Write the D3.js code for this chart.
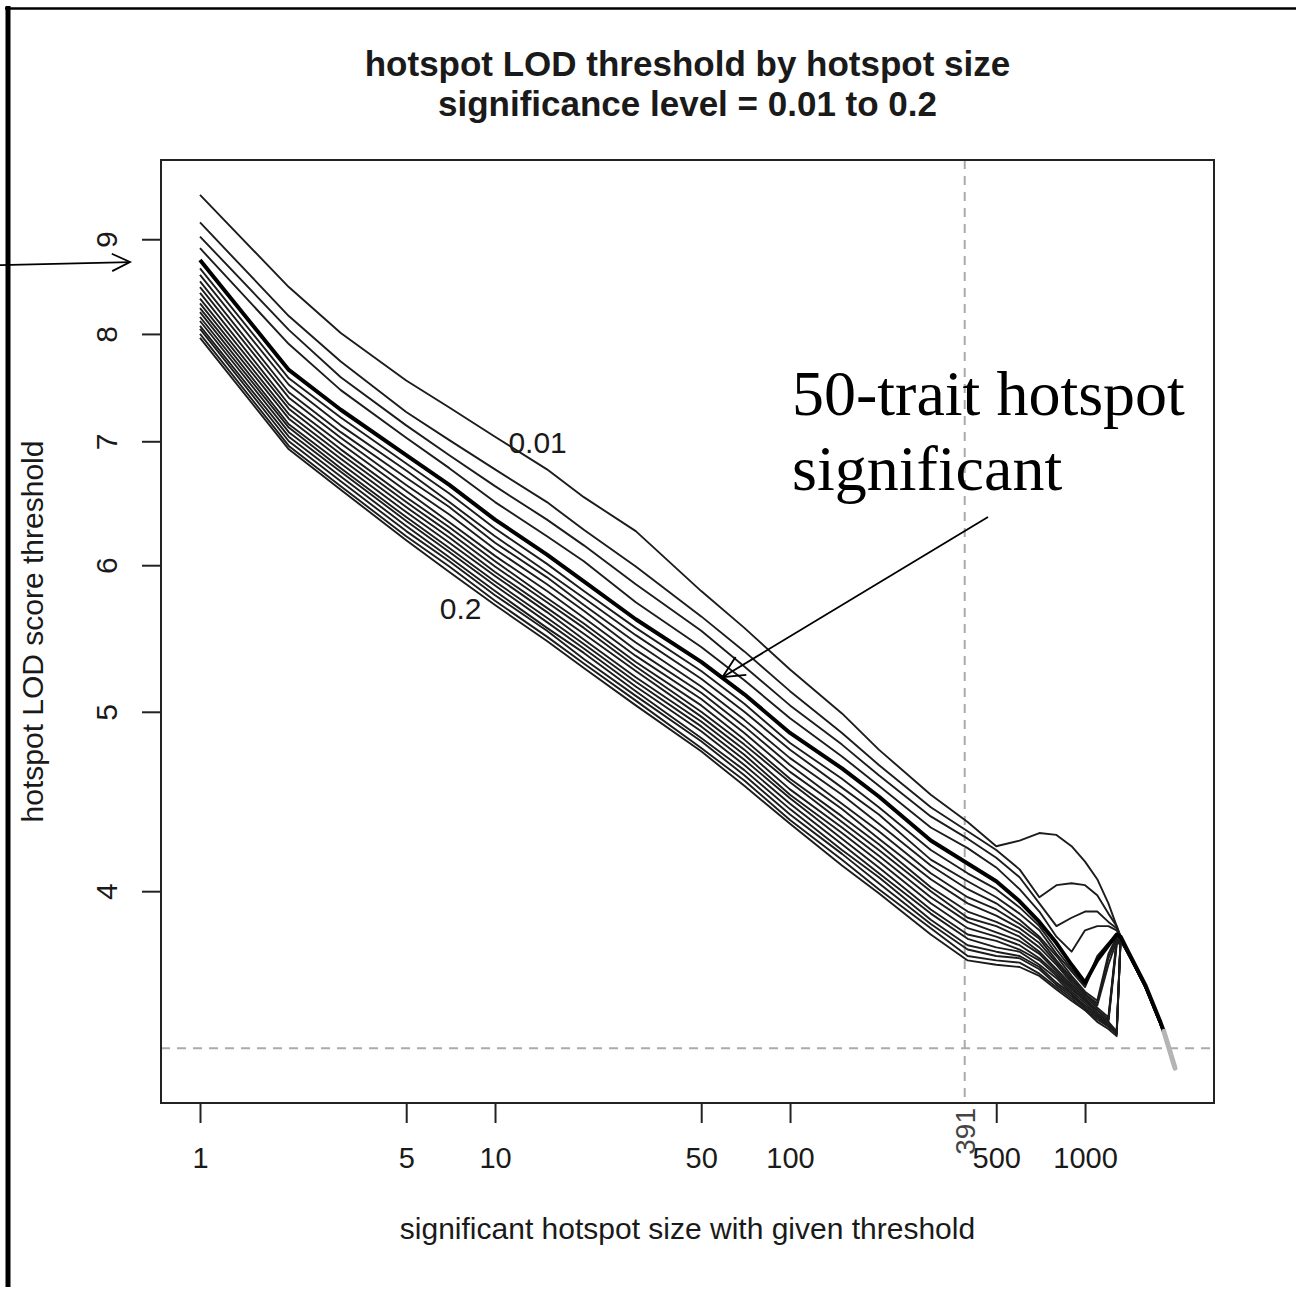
<!DOCTYPE html>
<html>
<head>
<meta charset="utf-8">
<script src="https://cdn.jsdelivr.net/npm/d3@7"></script>
<style>
  html, body { margin: 0; padding: 0; background: #fff; }
  svg { display: block; }
</style>
</head>
<body>
<svg id="chart" width="1296" height="1290"></svg>
<script>
// Hotspot sizes (x) at which every threshold curve is evaluated
const sizes = [1, 2, 3, 5, 7, 10, 15, 20, 30, 50, 70, 100, 150, 200, 300, 400, 500, 600,
               700, 800, 900, 1000, 1100, 1200, 1280, 1320, 1400, 1600, 1800, 1850];

// Significance levels, one curve each
const levels = ["0.01", "0.02", "0.03", "0.04", "0.05", "0.06", "0.07", "0.08", "0.09", "0.1",
                "0.11", "0.12", "0.13", "0.14", "0.15", "0.16", "0.17", "0.18", "0.19", "0.2"];

// Hotspot LOD thresholds per significance level
const sig01 = [9.51, 8.48, 8.01, 7.55, 7.30, 7.04, 6.76, 6.53, 6.26, 5.81, 5.55, 5.27, 4.99, 4.77, 4.51, 4.36, 4.23, 4.26, 4.30, 4.29, 4.23, 4.15, 4.06, 3.94, 3.83, 3.78, 3.71, 3.56, 3.40, 3.36];
const sig02 = [9.19, 8.18, 7.73, 7.26, 7.01, 6.76, 6.49, 6.27, 5.99, 5.63, 5.39, 5.13, 4.87, 4.68, 4.44, 4.31, 4.21, 4.11, 3.97, 4.03, 4.04, 4.03, 3.98, 3.89, 3.83, 3.78, 3.71, 3.56, 3.40, 3.36];
const sig03 = [9.03, 8.04, 7.58, 7.14, 6.88, 6.62, 6.35, 6.15, 5.86, 5.53, 5.29, 5.04, 4.80, 4.62, 4.39, 4.27, 4.17, 4.07, 3.94, 3.83, 3.87, 3.90, 3.90, 3.85, 3.82, 3.78, 3.70, 3.55, 3.40, 3.35];
const sig04 = [8.90, 7.90, 7.46, 7.03, 6.77, 6.49, 6.22, 6.03, 5.73, 5.42, 5.20, 4.96, 4.73, 4.56, 4.33, 4.22, 4.12, 4.01, 3.90, 3.78, 3.71, 3.81, 3.83, 3.83, 3.81, 3.77, 3.70, 3.55, 3.39, 3.35];
const sig05 = [8.77, 7.65, 7.28, 6.88, 6.63, 6.35, 6.08, 5.88, 5.61, 5.32, 5.11, 4.87, 4.66, 4.50, 4.26, 4.14, 4.05, 3.95, 3.85, 3.75, 3.65, 3.57, 3.67, 3.74, 3.79, 3.78, 3.71, 3.56, 3.40, 3.36];
const sig06 = [8.68, 7.57, 7.21, 6.81, 6.56, 6.28, 6.01, 5.81, 5.55, 5.26, 5.05, 4.81, 4.60, 4.44, 4.21, 4.09, 4.01, 3.92, 3.83, 3.72, 3.63, 3.56, 3.69, 3.75, 3.79, 3.78, 3.71, 3.56, 3.40, 3.36];
const sig07 = [8.61, 7.51, 7.14, 6.75, 6.49, 6.22, 5.95, 5.76, 5.50, 5.21, 5.00, 4.77, 4.55, 4.40, 4.16, 4.05, 3.97, 3.89, 3.81, 3.70, 3.62, 3.55, 3.68, 3.74, 3.78, 3.77, 3.70, 3.56, 3.39, 3.35];
const sig08 = [8.54, 7.44, 7.08, 6.69, 6.45, 6.17, 5.91, 5.71, 5.45, 5.16, 4.95, 4.72, 4.51, 4.35, 4.13, 4.01, 3.94, 3.86, 3.78, 3.69, 3.60, 3.53, 3.49, 3.70, 3.78, 3.77, 3.71, 3.55, 3.40, 3.36];
const sig09 = [8.48, 7.39, 7.03, 6.63, 6.39, 6.12, 5.86, 5.67, 5.40, 5.12, 4.91, 4.68, 4.46, 4.31, 4.09, 3.97, 3.91, 3.84, 3.77, 3.67, 3.59, 3.52, 3.48, 3.68, 3.77, 3.77, 3.70, 3.55, 3.39, 3.35];
const sig10 = [8.42, 7.33, 6.98, 6.58, 6.33, 6.07, 5.81, 5.62, 5.36, 5.08, 4.87, 4.64, 4.43, 4.27, 4.06, 3.94, 3.88, 3.82, 3.75, 3.66, 3.58, 3.52, 3.47, 3.65, 3.76, 3.76, 3.70, 3.56, 3.40, 3.36];
const sig11 = [8.36, 7.29, 6.93, 6.53, 6.29, 6.03, 5.76, 5.58, 5.32, 5.04, 4.83, 4.60, 4.39, 4.24, 4.02, 3.90, 3.85, 3.80, 3.73, 3.65, 3.57, 3.51, 3.46, 3.42, 3.77, 3.76, 3.71, 3.56, 3.39, 3.35];
const sig12 = [8.31, 7.24, 6.89, 6.49, 6.25, 5.99, 5.73, 5.55, 5.29, 5.00, 4.80, 4.58, 4.36, 4.21, 4.00, 3.87, 3.83, 3.78, 3.71, 3.63, 3.56, 3.50, 3.45, 3.41, 3.76, 3.77, 3.70, 3.55, 3.40, 3.36];
const sig13 = [8.26, 7.20, 6.85, 6.45, 6.21, 5.95, 5.69, 5.51, 5.26, 4.97, 4.77, 4.54, 4.33, 4.18, 3.97, 3.85, 3.80, 3.76, 3.70, 3.62, 3.55, 3.49, 3.45, 3.41, 3.75, 3.77, 3.71, 3.56, 3.40, 3.35];
const sig14 = [8.22, 7.15, 6.81, 6.41, 6.17, 5.92, 5.66, 5.47, 5.22, 4.94, 4.74, 4.51, 4.30, 4.15, 3.94, 3.82, 3.78, 3.74, 3.68, 3.61, 3.54, 3.49, 3.44, 3.40, 3.74, 3.76, 3.70, 3.55, 3.39, 3.36];
const sig15 = [8.17, 7.12, 6.77, 6.37, 6.13, 5.88, 5.62, 5.44, 5.19, 4.91, 4.71, 4.49, 4.27, 4.12, 3.91, 3.79, 3.76, 3.72, 3.67, 3.60, 3.53, 3.48, 3.43, 3.40, 3.36, 3.78, 3.71, 3.56, 3.40, 3.36];
const sig16 = [8.13, 7.08, 6.74, 6.34, 6.10, 5.85, 5.59, 5.41, 5.16, 4.88, 4.68, 4.46, 4.24, 4.09, 3.89, 3.77, 3.73, 3.71, 3.65, 3.59, 3.52, 3.47, 3.43, 3.39, 3.36, 3.77, 3.70, 3.55, 3.39, 3.35];
const sig17 = [8.08, 7.04, 6.70, 6.30, 6.06, 5.81, 5.55, 5.38, 5.13, 4.84, 4.65, 4.43, 4.21, 4.07, 3.86, 3.74, 3.71, 3.69, 3.64, 3.57, 3.52, 3.46, 3.42, 3.39, 3.35, 3.77, 3.71, 3.56, 3.40, 3.36];
const sig18 = [8.05, 7.00, 6.66, 6.26, 6.03, 5.78, 5.53, 5.34, 5.10, 4.82, 4.62, 4.40, 4.19, 4.04, 3.84, 3.72, 3.69, 3.68, 3.63, 3.56, 3.51, 3.46, 3.42, 3.38, 3.35, 3.77, 3.70, 3.56, 3.40, 3.36];
const sig19 = [8.00, 6.96, 6.62, 6.22, 5.99, 5.74, 5.49, 5.31, 5.07, 4.78, 4.59, 4.37, 4.16, 4.01, 3.82, 3.69, 3.67, 3.66, 3.61, 3.55, 3.50, 3.45, 3.41, 3.38, 3.35, 3.76, 3.71, 3.55, 3.39, 3.35];
const sig20 = [7.96, 6.93, 6.59, 6.19, 5.95, 5.71, 5.46, 5.28, 5.04, 4.76, 4.56, 4.35, 4.13, 3.99, 3.79, 3.67, 3.65, 3.64, 3.60, 3.54, 3.49, 3.45, 3.40, 3.37, 3.34, 3.77, 3.70, 3.56, 3.40, 3.36];

// Common tail shared by all levels at the largest sizes
const tailSizes = [1850, 2018];
const tailLOD = [3.36, 3.21];

// Axis ticks
const xTicks = [1, 5, 10, 50, 100, 500, 1000];
const yTicks = [4, 5, 6, 7, 8, 9];

// Reference lines: hotspot size 391 and single-trait LOD threshold
const refSize = 391;
const refLOD = 3.29;

// Emphasised level (drawn heavy) and in-plot level labels
const boldLevel = "0.05";
const levelLabels = [
  { text: "0.01", size: 11.1, lod: 6.90 },
  { text: "0.2",  size: 6.5,  lod: 5.61 }
];

const series = [sig01, sig02, sig03, sig04, sig05, sig06, sig07, sig08, sig09, sig10,
                sig11, sig12, sig13, sig14, sig15, sig16, sig17, sig18, sig19, sig20];

// ---------------------------------------------------------------------------
const svg = d3.select("#chart");
const sans = "'Liberation Sans', Arial, Helvetica, sans-serif";
const serif = "'Liberation Serif', 'Times New Roman', serif";
const ink = "#1a1a1a";

const box = { left: 161, top: 160, right: 1214, bottom: 1103 };

// log range padded by 4% on each side
function padLog(lo, hi) {
  const a = Math.log10(lo), b = Math.log10(hi), d = (b - a) * 0.04;
  return [Math.pow(10, a - d), Math.pow(10, b + d)];
}
const allLOD = series.flat().concat(tailLOD);
const x = d3.scaleLog()
  .domain(padLog(d3.min(sizes), d3.max(tailSizes)))
  .range([box.left, box.right]);
const y = d3.scaleLog()
  .domain(padLog(d3.min(allLOD), d3.max(allLOD)))
  .range([box.bottom, box.top]);

svg.append("rect").attr("width", 1296).attr("height", 1290).attr("fill", "#fff");

// outer slide frame
svg.append("line").attr("x1", 8).attr("x2", 8).attr("y1", 6).attr("y2", 1287)
  .attr("stroke", "#000").attr("stroke-width", 5);
svg.append("line").attr("x1", 5).attr("x2", 1296).attr("y1", 8.5).attr("y2", 8.5)
  .attr("stroke", "#000").attr("stroke-width", 2.5);

// reference lines
svg.append("line")
  .attr("x1", box.left).attr("x2", box.right)
  .attr("y1", y(refLOD)).attr("y2", y(refLOD))
  .attr("stroke", "#aaa").attr("stroke-width", 2).attr("stroke-dasharray", "9,7");
svg.append("line")
  .attr("x1", x(refSize)).attr("x2", x(refSize))
  .attr("y1", box.top).attr("y2", box.bottom)
  .attr("stroke", "#aaa").attr("stroke-width", 2).attr("stroke-dasharray", "9,7");

// threshold curves
const line = d3.line().x(d => x(d[0])).y(d => y(d[1]));
const curves = svg.append("g").attr("fill", "none").attr("stroke-linejoin", "round");
const order = d3.range(series.length).sort((a, b) =>
  (levels[a] === boldLevel) - (levels[b] === boldLevel));
order.forEach(i => {
  const pts = sizes.map((s, j) => [s, series[i][j]]);
  const bold = levels[i] === boldLevel;
  curves.append("path")
    .attr("d", line(pts))
    .attr("stroke", bold ? "#000" : "#1c1c1c")
    .attr("stroke-width", bold ? 4 : 1.9);
});
curves.append("path")
  .attr("d", line(tailSizes.map((s, j) => [s, tailLOD[j]])))
  .attr("stroke", "#b4b4b4").attr("stroke-width", 5).attr("stroke-linecap", "round");

// level labels
levelLabels.forEach(l => {
  svg.append("text")
    .attr("x", x(l.size)).attr("y", y(l.lod))
    .attr("font-family", sans).attr("font-size", 30).attr("fill", ink)
    .text(l.text);
});

// plot frame
svg.append("rect")
  .attr("x", box.left).attr("y", box.top)
  .attr("width", box.right - box.left).attr("height", box.bottom - box.top)
  .attr("fill", "none").attr("stroke", "#222").attr("stroke-width", 2);

// x axis
const gx = svg.append("g").attr("transform", `translate(0,${box.bottom})`)
  .call(d3.axisBottom(x).tickValues(xTicks).tickFormat(d3.format("d")).tickSize(20).tickSizeOuter(0));
gx.select(".domain").remove();
gx.selectAll(".tick line").attr("stroke", "#222").attr("stroke-width", 2);
gx.selectAll(".tick text")
  .attr("y", 65).attr("dy", null)
  .attr("font-family", sans).attr("font-size", 29).attr("fill", ink);

// marked size on the x axis
svg.append("text")
  .attr("transform", `translate(${x(refSize) + 10},${box.bottom + 5}) rotate(-90)`)
  .attr("text-anchor", "end")
  .attr("font-family", sans).attr("font-size", 28).attr("fill", "#444")
  .text(refSize);

// y axis
const gy = svg.append("g").attr("transform", `translate(${box.left},0)`)
  .call(d3.axisLeft(y).tickValues(yTicks).tickFormat(d3.format("d")).tickSize(19).tickSizeOuter(0));
gy.select(".domain").remove();
gy.selectAll(".tick line").attr("stroke", "#222").attr("stroke-width", 2);
gy.selectAll(".tick text")
  .attr("x", null).attr("dy", null)
  .attr("text-anchor", "middle")
  .attr("transform", "translate(-44,0) rotate(-90)")
  .attr("font-family", sans).attr("font-size", 30).attr("fill", ink);

// titles
const midX = (box.left + box.right) / 2;
svg.append("text").attr("x", midX).attr("y", 76).attr("text-anchor", "middle")
  .attr("font-family", sans).attr("font-weight", "bold").attr("font-size", 35).attr("fill", ink)
  .text("hotspot LOD threshold by hotspot size");
svg.append("text").attr("x", midX).attr("y", 116).attr("text-anchor", "middle")
  .attr("font-family", sans).attr("font-weight", "bold").attr("font-size", 35).attr("fill", ink)
  .text("significance level = 0.01 to 0.2");
svg.append("text").attr("x", midX).attr("y", 1239).attr("text-anchor", "middle")
  .attr("font-family", sans).attr("font-size", 30).attr("fill", ink)
  .text("significant hotspot size with given threshold");
svg.append("text")
  .attr("transform", `translate(43,${(box.top + box.bottom) / 2}) rotate(-90)`)
  .attr("text-anchor", "middle")
  .attr("font-family", sans).attr("font-size", 30).attr("fill", ink)
  .text("hotspot LOD score threshold");

// arrow helper
function arrow(x1, y1, x2, y2, head) {
  const a = Math.atan2(y2 - y1, x2 - x1), spread = 0.45;
  svg.append("line").attr("x1", x1).attr("y1", y1).attr("x2", x2).attr("y2", y2)
    .attr("stroke", "#000").attr("stroke-width", 1.8);
  svg.append("path")
    .attr("d", `M${x2 - head * Math.cos(a - spread)},${y2 - head * Math.sin(a - spread)}` +
               `L${x2},${y2}L${x2 - head * Math.cos(a + spread)},${y2 - head * Math.sin(a + spread)}`)
    .attr("fill", "none").attr("stroke", "#000").attr("stroke-width", 1.8);
}

// callout: 0.05 threshold for a single trait
const startLOD = sig05[0];
arrow(0, y(startLOD) + 5, box.left - 31, y(startLOD) + 2, 20);

// callout: 50-trait hotspot on the 0.05 curve
const calloutSize = 59, calloutLOD = 5.22;
svg.append("text").attr("x", 792).attr("y", 415)
  .attr("font-family", serif).attr("font-size", 64).attr("fill", "#000")
  .text("50-trait hotspot");
svg.append("text").attr("x", 792).attr("y", 490)
  .attr("font-family", serif).attr("font-size", 64).attr("fill", "#000")
  .text("significant");
arrow(988, 517, x(calloutSize), y(calloutLOD), 24);
</script>
</body>
</html>
